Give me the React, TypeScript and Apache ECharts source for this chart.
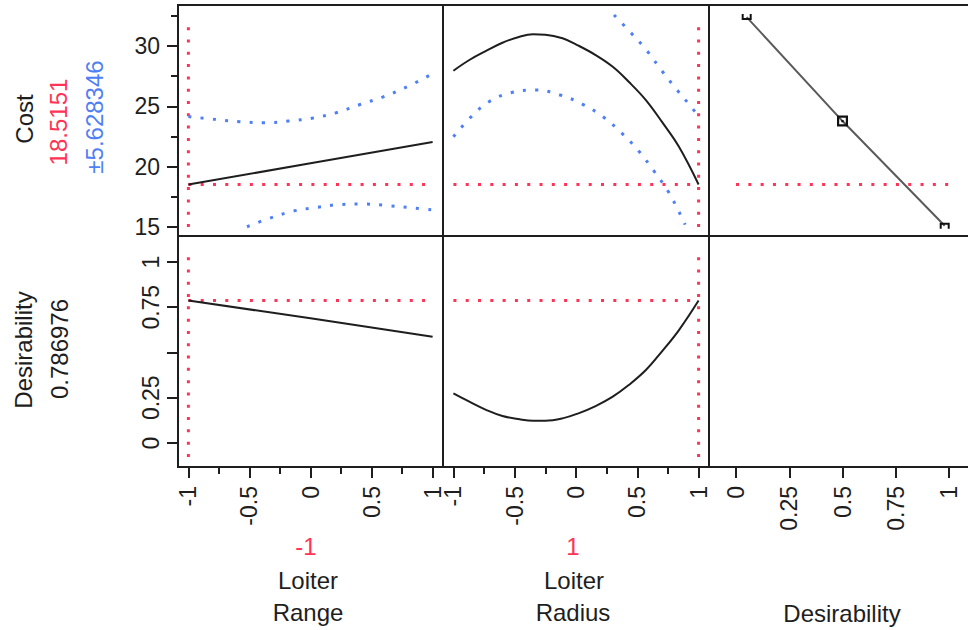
import React, { useEffect, useRef } from "react";
import * as echarts from "echarts";

// ---------------- data ----------------
const rangeTicks = [-1, -0.5, 0, 0.5, 1];
const rangeMinorTicks = [-0.75, -0.25, 0.25, 0.75];
const desXTicks = [0, 0.25, 0.5, 0.75, 1];
const costTicks = [15, 20, 25, 30];
const costMinorTicks = [17.5, 22.5, 27.5, 32.5];
const desYTicks = [0, 0.25, 0.5, 0.75, 1];
const desYLabels = [0, 0.25, 0.75, 1];

const currentRange = -1;
const currentRadius = 1;
const currentCost = 18.5151;
const costCI = "±5.628346";
const currentDesirability = 0.786976;

// extents of the red vertical crosshair lines
const costCrossSpan = [15.0, 32.3];
const desCrossSpan = [-0.077, 1.066];

// Cost vs Loiter Range
const costRangeX = [-1, 0, 1];
const costRangeY = [18.52, 20.28, 22.04];
const costRangeUpX = [-1, -0.78, -0.58, -0.38, -0.18, 0.02, 0.21, 0.4, 0.59, 0.78, 1];
const costRangeUpY = [24.15, 23.92, 23.73, 23.64, 23.78, 24.03, 24.47, 25.13, 25.77, 26.57, 27.7];
const costRangeLoX = [-0.52, -0.34, -0.14, 0.05, 0.25, 0.45, 0.65, 0.85, 1];
const costRangeLoY = [15.02, 15.71, 16.32, 16.62, 16.87, 16.9, 16.76, 16.57, 16.42];

// Cost vs Loiter Radius
const radiusX = [-1, -0.87, -0.73, -0.6, -0.46, -0.35, -0.25, -0.11, 0.02, 0.16, 0.3, 0.43, 0.57, 0.7, 0.84, 1];
const costRadiusY = [27.95, 28.84, 29.61, 30.27, 30.77, 30.97, 30.94, 30.64, 30.03, 29.25, 28.28, 27.04, 25.52, 23.73, 21.65, 18.52];
const costRadiusUpX = [0.31, 0.445, 0.58, 0.7, 0.82, 0.95, 1];
const costRadiusUpY = [32.57, 31.13, 29.59, 27.95, 26.41, 24.83, 24.15];
const costRadiusLoX = [-1, -0.86, -0.71, -0.53, -0.33, -0.13, 0.05, 0.22, 0.37, 0.51, 0.63, 0.75, 0.84, 0.89];
const costRadiusLoY = [22.48, 24.09, 25.38, 26.13, 26.35, 25.94, 25.19, 24.14, 22.81, 21.32, 19.72, 17.98, 16.26, 15.2];

// Cost vs Desirability (desirability function)
const desFuncX = [0.05, 0.5, 0.98];
const desFuncCost = [32.4, 23.78, 15.1];

// Desirability vs Loiter Range
const desRangeX = [-1, 0, 1];
const desRangeY = [0.787, 0.689, 0.587];

// Desirability vs Loiter Radius
const desRadiusY = [0.274, 0.228, 0.182, 0.149, 0.131, 0.123, 0.123, 0.136, 0.164, 0.204, 0.256, 0.32, 0.403, 0.505, 0.624, 0.787];

// ---------------- styles / layout ----------------
const FONT = "'Liberation Sans', Arial, Helvetica, sans-serif";
const INK = "#1e1e1e";
const RED = "#ff3355";
const BLUE = "#4f7ff5";
const DOT = [3, 9.3];

const colLeft = [178, 443, 709];
const colWidth = [265, 266, 267];
const rowTop = [5, 236];
const rowHeight = [231, 231];
const xRanges = [
  [-1.085, 1.085],
  [-1.085, 1.085],
  [-0.127, 1.127],
];
const yRanges = [
  [14.254, 33.4],
  [-0.1326, 1.1436],
];

const markerTop = "path://M0,0 H2 V4 H8 V0 H10 V6 H0 Z";
const markerMid = "path://M0,0 H10 V10 H0 Z M2,2 V8 H8 V2 Z M4,4 H6 V6 H4 Z";
const markerBot = "path://M0,0 H10 V6 H8 V2 H2 V6 H0 Z";
const markerShapes = [markerTop, markerMid, markerBot];
const markerSizes = [
  [10, 6],
  [11, 11],
  [10, 6],
];

function pairs(xs: number[], ys: number[]) {
  return xs.map((x, i) => [x, ys[i]]);
}

const hiddenLine = { show: false, onZero: false };

function buildOption() {
  const grid: any[] = [];
  const xAxis: any[] = [];
  const yAxis: any[] = [];
  for (let r = 0; r < 2; r++) {
    for (let c = 0; c < 3; c++) {
      const i = r * 3 + c;
      grid.push({
        left: colLeft[c],
        top: rowTop[r],
        width: colWidth[c],
        height: rowHeight[r],
        show: true,
        borderColor: INK,
        borderWidth: 2,
        backgroundColor: "transparent",
        containLabel: false,
        outerBoundsMode: "none",
      });
      const xt = c < 2 ? rangeTicks : desXTicks;
      xAxis.push({
        type: "value",
        gridIndex: i,
        position: "bottom",
        min: xRanges[c][0],
        max: xRanges[c][1],
        show: r === 1,
        axisLine: hiddenLine,
        splitLine: { show: false },
        axisTick: {
          show: true,
          length: 11,
          lineStyle: { color: INK, width: 2 },
          customValues: xt,
        },
        axisLabel: {
          show: true,
          rotate: 90,
          margin: 19,
          fontSize: 23,
          color: INK,
          fontFamily: FONT,
          customValues: xt,
        },
      });
      const yt = r === 0 ? costTicks : desYTicks;
      const yl = r === 0 ? costTicks : desYLabels;
      yAxis.push({
        type: "value",
        gridIndex: i,
        position: "left",
        min: yRanges[r][0],
        max: yRanges[r][1],
        show: c === 0,
        axisLine: hiddenLine,
        splitLine: { show: false },
        axisTick: {
          show: true,
          length: 11,
          lineStyle: { color: INK, width: 2 },
          customValues: yt,
        },
        axisLabel: {
          show: true,
          rotate: r === 0 ? 0 : 90,
          margin: r === 0 ? 18 : 16,
          fontSize: 23,
          color: INK,
          fontFamily: FONT,
          customValues: yl,
        },
      });
    }
  }
  // minor ticks
  [3, 4].forEach((g) => {
    xAxis.push({
      type: "value",
      gridIndex: g,
      position: "bottom",
      min: xRanges[g - 3][0],
      max: xRanges[g - 3][1],
      axisLine: hiddenLine,
      splitLine: { show: false },
      axisTick: {
        show: true,
        length: 7,
        lineStyle: { color: INK, width: 2 },
        customValues: rangeMinorTicks,
      },
      axisLabel: { show: false },
    });
  });
  yAxis.push({
    type: "value",
    gridIndex: 0,
    position: "left",
    min: yRanges[0][0],
    max: yRanges[0][1],
    axisLine: hiddenLine,
    splitLine: { show: false },
    axisTick: {
      show: true,
      length: 7,
      lineStyle: { color: INK, width: 2 },
      customValues: costMinorTicks,
    },
    axisLabel: { show: false },
  });

  const series: any[] = [];
  const add = (g: number, data: any[], color: string, dotted: boolean, smooth: number, z: number, width = 2) => {
    series.push({
      type: "line",
      xAxisIndex: g,
      yAxisIndex: g,
      data,
      showSymbol: false,
      symbol: "none",
      smooth,
      z,
      silent: true,
      lineStyle: {
        color,
        width: dotted ? 3 : width,
        type: dotted ? DOT : "solid",
      },
    });
  };

  // red crosshairs
  add(0, [[-1, currentCost], [1, currentCost]], RED, true, 0, 1);
  add(0, [[currentRange, costCrossSpan[0]], [currentRange, costCrossSpan[1]]], RED, true, 0, 1);
  add(1, [[-1, currentCost], [1, currentCost]], RED, true, 0, 1);
  add(1, [[currentRadius, costCrossSpan[0]], [currentRadius, costCrossSpan[1]]], RED, true, 0, 1);
  add(2, [[0, currentCost], [1, currentCost]], RED, true, 0, 1);
  add(3, [[-1, currentDesirability], [1, currentDesirability]], RED, true, 0, 1);
  add(3, [[currentRange, desCrossSpan[0]], [currentRange, desCrossSpan[1]]], RED, true, 0, 1);
  add(4, [[-1, currentDesirability], [1, currentDesirability]], RED, true, 0, 1);
  add(4, [[currentRadius, desCrossSpan[0]], [currentRadius, desCrossSpan[1]]], RED, true, 0, 1);

  // confidence bands
  add(0, pairs(costRangeUpX, costRangeUpY), BLUE, true, 0.4, 2);
  add(0, pairs(costRangeLoX, costRangeLoY), BLUE, true, 0.4, 2);
  add(1, pairs(costRadiusUpX, costRadiusUpY), BLUE, true, 0.4, 2);
  add(1, pairs(costRadiusLoX, costRadiusLoY), BLUE, true, 0.4, 2);

  // predictions
  add(0, pairs(costRangeX, costRangeY), INK, false, 0, 3);
  add(1, pairs(radiusX, costRadiusY), INK, false, 0.4, 3);
  add(3, pairs(desRangeX, desRangeY), INK, false, 0, 3);
  add(4, pairs(radiusX, desRadiusY), INK, false, 0.4, 3);

  // desirability function
  series.push({
    type: "line",
    xAxisIndex: 2,
    yAxisIndex: 2,
    z: 3,
    silent: true,
    lineStyle: { color: "#5a5a5a", width: 2 },
    itemStyle: { color: "#111" },
    showSymbol: true,
    data: desFuncX.map((x, i) => ({
      value: [x, desFuncCost[i]],
      symbol: markerShapes[i],
      symbolSize: markerSizes[i],
    })),
  });

  const txt = (x: number, y: number, text: string, fill: string, rot: number, size = 24) => ({
    type: "text",
    x,
    y,
    rotation: rot,
    silent: true,
    style: {
      text,
      fill,
      font: `${size}px ${FONT}`,
      align: "center",
      verticalAlign: "middle",
    },
  });
  const R = Math.PI / 2;
  const graphic = [
    txt(24, 119, "Cost", INK, R),
    txt(58, 122, String(currentCost), RED, R),
    txt(94, 117, costCI, BLUE, R),
    txt(23, 350, "Desirability", INK, R),
    txt(59, 349, String(currentDesirability), INK, R),
    txt(306, 546, String(currentRange), RED, 0),
    txt(308, 580, "Loiter", INK, 0),
    txt(308, 612, "Range", INK, 0),
    txt(573, 546, String(currentRadius), RED, 0),
    txt(574, 580, "Loiter", INK, 0),
    txt(573, 612, "Radius", INK, 0),
    txt(842, 613, "Desirability", INK, 0),
  ];

  return {
    animation: false,
    backgroundColor: "#ffffff",
    grid,
    xAxis,
    yAxis,
    series,
    graphic,
  };
}

export default function App() {
  const ref = useRef<HTMLDivElement>(null);
  useEffect(() => {
    if (!ref.current) return;
    const chart = echarts.init(ref.current, undefined, { renderer: "svg" });
    chart.setOption(buildOption() as any);
    return () => chart.dispose();
  }, []);
  return (
    <div
      ref={ref}
      style={{ position: "fixed", left: 0, top: 0, width: 968, height: 630, background: "#fff" }}
    />
  );
}
